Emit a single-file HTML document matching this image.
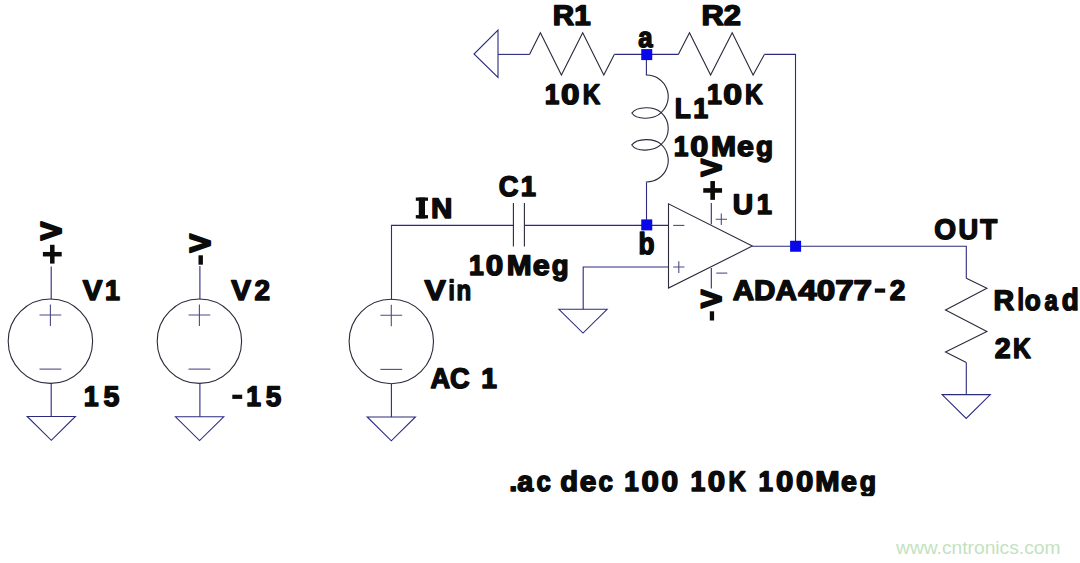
<!DOCTYPE html>
<html><head><meta charset="utf-8"><title>LTspice schematic</title>
<style>
html,body{margin:0;padding:0;background:#fff;}
body{width:1080px;height:563px;overflow:hidden;font-family:"Liberation Sans",sans-serif;}
svg{display:block;}
.t{font-family:"Liberation Sans",sans-serif;font-weight:bold;font-size:28.4px;fill:#0b0b0b;stroke:#0b0b0b;stroke-width:1.5px;stroke-linejoin:round;text-rendering:geometricPrecision;}
.w{fill:none;stroke:#2b2b80;stroke-width:1.1;}
.c{fill:none;stroke:#2a2a3c;stroke-width:1.1;stroke-linejoin:miter;}
.s{fill:none;stroke:#4c4c86;stroke-width:1.1;}
.wm{font-family:"Liberation Sans",sans-serif;font-size:19px;fill:#c3e2bf;}
</style></head>
<body>
<svg width="1080" height="563" viewBox="0 0 1080 563">
<rect width="1080" height="563" fill="#ffffff"/>
<path class="w" d="M498 54.4H529.5"/>
<path class="w" d="M614.3 54.4H678.3"/>
<path class="w" d="M764.4 54.4H795.5V246.2"/>
<path class="w" d="M646.4 54.4V75.3"/>
<path class="w" d="M646.5 182.3V225.4"/>
<path class="w" d="M391.5 299.5V225.4H513.4"/>
<path class="w" d="M524.4 225.4H668.5"/>
<path class="w" d="M668.5 267H583.2V309.3"/>
<path class="w" d="M752.3 246.25H966.3V278.2"/>
<path class="w" d="M966.3 362.5V394.6"/>
<path class="w" d="M51.2 266.5V299.3M51.2 383V416.5"/>
<path class="w" d="M199.9 266V299.3M199.9 383V416.8"/>
<path class="w" d="M391.4 383.7V417"/>
<path class="w" d="M711.3 203V224.3M711.3 268V288.5"/>
<path class="w" d="M27.20 416.50H75.40L51.30 440.30Z"/>
<path class="w" d="M175.50 416.80H223.70L199.60 440.60Z"/>
<path class="w" d="M367.20 417.00H415.40L391.30 440.80Z"/>
<path class="w" d="M558.90 309.30H607.10L583.00 333.10Z"/>
<path class="w" d="M942.10 394.60H990.30L966.20 418.40Z"/>
<path class="w" d="M498 30V77.5L474 54Z"/>
<path class="c" d="M529.5 54.4L540.4 32.7L561.4 75L582.7 32.7L603.8 75L614.3 54.4"/>
<path class="c" d="M678.3 54.4L689.5 32.7L710.6 75L732.2 32.7L753.1 75L764.4 54.4"/>
<path class="c" d="M966.3 278.2L986.9 288.2L945.5 310L986.9 331.4L945.5 352L966.3 362.5"/>
<path class="c" d="M646.4 75.3V75.00A21.6 21.6 0 0 1 661.20 112.55C654.20 119.55 636.80 120.45 631.80 113.05C636.80 106.25 654.20 105.85 661.20 112.55A21.6 21.6 0 0 1 661.20 144.45C654.20 151.45 636.80 152.35 631.80 144.95C636.80 138.15 654.20 137.75 661.20 144.45A21.6 21.6 0 0 1 646.4 182.00V182.3"/>
<path class="c" d="M513.4 203V246.4M524.4 203V246.4"/>
<path class="c" d="M668.5 203.8V288.1L752.3 246.1Z"/>
<path class="s" d="M673.2 225.4H684.4"/>
<path class="s" d="M673.2 267H684.4M678.8 261.3V273"/>
<path class="s" d="M715.7 219.2H727M721.3 213.4V225"/>
<path class="s" d="M716.3 273.1H727.3"/>
<circle class="c" cx="50.4" cy="341.2" r="42.2"/><path class="s" d="M39.50 315.00h21.8M50.40 304.40v21.6"/><path class="s" d="M39.50 369.10h21.8"/>
<circle class="c" cx="199.4" cy="341.2" r="42.2"/><path class="s" d="M188.50 315.00h21.8M199.40 304.40v21.6"/><path class="s" d="M188.50 369.10h21.8"/>
<circle class="c" cx="391.3" cy="341.5" r="42.2"/><path class="s" d="M380.40 315.30h21.8M391.30 304.70v21.6"/><path class="s" d="M380.40 369.40h21.8"/>
<rect x="641.25" y="49.10" width="11" height="11" fill="#0707ea"/>
<rect x="641.25" y="219.40" width="11" height="11" fill="#0707ea"/>
<rect x="790.10" y="240.75" width="11" height="11" fill="#0707ea"/>
<text class="t" transform="translate(552.81,24.90) scale(1.0434,1)">R1</text>
<text class="t" transform="translate(701.56,24.90) scale(1.0869,1)">R2</text>
<text class="t" transform="translate(638.25,47.30) scale(0.9062,1)">a</text>
<text class="t" transform="translate(544.83,104.30) scale(0.9214,1)">1</text>
<text class="t" transform="translate(561.08,104.30) scale(1.1714,1)">0</text>
<text class="t" transform="translate(582.65,104.30) scale(0.8500,1)">K</text>
<text class="t" transform="translate(707.06,104.30) scale(0.9393,1)">1</text>
<text class="t" transform="translate(723.31,104.30) scale(1.1893,1)">0</text>
<text class="t" transform="translate(744.89,104.30) scale(0.8625,1)">K</text>
<text class="t" transform="translate(674.83,118.20) scale(0.9250,1)">L</text>
<text class="t" transform="translate(693.21,118.20) scale(0.9429,1)">1</text>
<text class="t" transform="translate(673.82,155.80) scale(0.9286,1)">1</text>
<text class="t" transform="translate(690.21,155.80) scale(1.1429,1)">0</text>
<text class="t" transform="translate(710.94,155.80) scale(1.0595,1)">M</text>
<text class="t" transform="translate(736.93,155.80) scale(1.0714,1)">e</text>
<text class="t" transform="translate(756.02,155.80) scale(0.9833,1)">g</text>
<text class="t" transform="translate(430.96,217.95) scale(1.0417,1)">N</text>
<text class="t" transform="translate(498.79,195.80) scale(0.9605,1)">C</text>
<text class="t" transform="translate(520.79,195.80) scale(0.9643,1)">1</text>
<text class="t" transform="translate(469.11,275.10) scale(0.9357,1)">1</text>
<text class="t" transform="translate(485.74,275.10) scale(1.1071,1)">0</text>
<text class="t" transform="translate(506.80,275.10) scale(1.0524,1)">M</text>
<text class="t" transform="translate(532.67,275.10) scale(1.0786,1)">e</text>
<text class="t" transform="translate(551.68,275.10) scale(0.9733,1)">g</text>
<text class="t" transform="translate(424.45,299.80) scale(1.1211,1)">V</text>
<text class="t" transform="translate(448.45,299.80) scale(0.8000,1)">i</text>
<text class="t" transform="translate(456.60,299.80) scale(0.8467,1)">n</text>
<text class="t" transform="translate(430.50,387.70) scale(0.9567,1)">AC</text>
<text class="t" transform="translate(481.26,387.70) scale(0.9929,1)">1</text>
<text class="t" transform="translate(82.65,299.60) scale(1.0368,1)">V</text>
<text class="t" transform="translate(105.05,299.60) scale(0.9464,1)">1</text>
<text class="t" transform="translate(231.35,299.60) scale(1.0421,1)">V</text>
<text class="t" transform="translate(254.50,299.60) scale(0.9833,1)">2</text>
<text class="t" transform="translate(83.66,406.00) scale(0.9393,1)">1</text>
<text class="t" transform="translate(103.45,406.00) scale(1.0067,1)">5</text>
<text class="t" transform="translate(246.21,406.00) scale(0.9357,1)">1</text>
<text class="t" transform="translate(265.65,406.00) scale(0.9800,1)">5</text>
<text class="t" transform="translate(732.86,214.20) scale(0.9944,1)">U</text>
<text class="t" transform="translate(756.69,214.20) scale(0.9643,1)">1</text>
<text class="t" transform="translate(732.75,299.50) scale(1.0425,1)">ADA</text>
<text class="t" transform="translate(798.25,299.50) scale(1.1689,1)">4077</text>
<text class="t" transform="translate(889.65,299.50) scale(0.9867,1)">2</text>
<text class="t" transform="translate(934.16,238.80) scale(0.9850,1)">O</text>
<text class="t" transform="translate(958.54,238.80) scale(0.9583,1)">U</text>
<text class="t" transform="translate(980.15,238.80) scale(0.9778,1)">T</text>
<text class="t" transform="translate(993.49,310.20) scale(1.0079,1)">R</text>
<text class="t" transform="translate(1017.43,310.20) scale(0.8200,1.08)">l</text>
<text class="t" transform="translate(1024.83,310.20) scale(0.9219,1)">o</text>
<text class="t" transform="translate(1044.50,310.20) scale(0.8438,1)">a</text>
<text class="t" transform="translate(1061.67,310.20) scale(0.9800,1.08)">d</text>
<text class="t" transform="translate(994.75,358.20) scale(1.0067,1)">2</text>
<text class="t" transform="translate(1012.99,358.20) scale(0.8650,1)">K</text>
<text class="t" transform="translate(638.58,254.20) scale(0.9219,1.07)">b</text>
<text class="t" transform="translate(509.34,491.00) scale(1.0136,1)">.a</text>
<text class="t" transform="translate(536.54,491.00) scale(0.9071,1)">c</text>
<text class="t" transform="translate(560.32,491.00) scale(1.0267,1)">d</text>
<text class="t" transform="translate(579.70,491.00) scale(1.0536,1)">e</text>
<text class="t" transform="translate(598.58,491.00) scale(0.9179,1)">c</text>
<text class="t" transform="translate(624.23,491.00) scale(0.9179,1)">1</text>
<text class="t" transform="translate(641.55,491.00) scale(1.0964,1)">0</text>
<text class="t" transform="translate(661.60,491.00) scale(1.0500,1)">0</text>
<text class="t" transform="translate(690.41,491.00) scale(0.9393,1)">1</text>
<text class="t" transform="translate(707.75,491.00) scale(1.1000,1)">0</text>
<text class="t" transform="translate(728.40,491.00) scale(0.8450,1)">K</text>
<text class="t" transform="translate(758.58,491.00) scale(0.9179,1)">1</text>
<text class="t" transform="translate(775.90,491.00) scale(1.0964,1)">0</text>
<text class="t" transform="translate(795.90,491.00) scale(1.0964,1)">0</text>
<text class="t" transform="translate(815.32,491.00) scale(1.0310,1)">M</text>
<text class="t" transform="translate(840.99,491.00) scale(1.0107,1)">e</text>
<text class="t" transform="translate(859.81,491.00) scale(0.9400,1)">g</text>
<text class="t" style="stroke-width:2.11px" transform="translate(61.25,240.20) rotate(-90) scale(0.9763,1.0185)">V</text>
<text class="t" style="stroke-width:2.10px" transform="translate(209.95,252.45) rotate(-90) scale(0.9816,1.0185)">V</text>
<text class="t" style="stroke-width:2.18px" transform="translate(720.65,176.45) rotate(-90) scale(0.9263,0.9980)">V</text>
<text class="t" style="stroke-width:2.15px" transform="translate(720.65,307.95) rotate(-90) scale(0.9553,0.9980)">V</text>
<rect x="42.90" y="251.95" width="18.80" height="4.50" fill="#0b0b0b"/>
<rect x="50.05" y="244.80" width="4.50" height="18.80" fill="#0b0b0b"/>
<rect x="703.25" y="188.15" width="18.80" height="4.60" fill="#0b0b0b"/>
<rect x="710.35" y="181.05" width="4.60" height="18.80" fill="#0b0b0b"/>
<rect x="198.50" y="255.30" width="4.40" height="9.40" fill="#0b0b0b"/>
<rect x="709.80" y="311.30" width="4.30" height="9.20" fill="#0b0b0b"/>
<rect x="232.30" y="394.70" width="9.90" height="4.20" fill="#0b0b0b"/>
<rect x="874.80" y="288.50" width="10.40" height="4.20" fill="#0b0b0b"/>
<rect x="415.80" y="197.50" width="12.20" height="3.30" fill="#0b0b0b"/>
<rect x="415.80" y="215.10" width="12.20" height="3.35" fill="#0b0b0b"/>
<rect x="418.80" y="197.50" width="6.20" height="20.95" fill="#0b0b0b"/>
<rect x="855" y="496.2" width="30" height="8" fill="#ffffff"/>
<text class="wm" x="896" y="553.6" textLength="164.5" lengthAdjust="spacingAndGlyphs">www.cntronics.com</text>
</svg>
</body></html>
